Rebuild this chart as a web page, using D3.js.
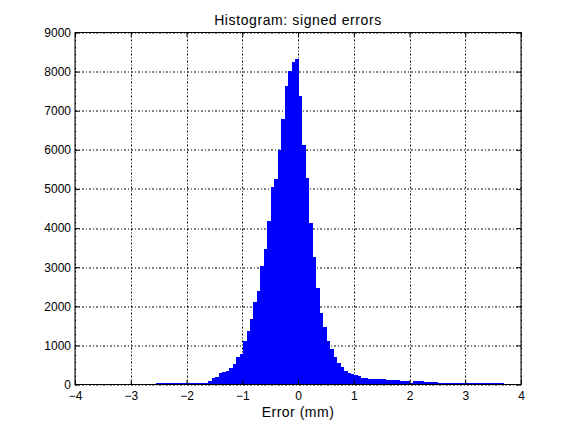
<!DOCTYPE html>
<html>
<head>
<meta charset="utf-8">
<script src="https://cdn.jsdelivr.net/npm/d3@7"></script>
<style>
  body { margin: 0; background: #fff; }
  text { font-family: "Liberation Sans", Arial, Helvetica, sans-serif; fill: #000; }
</style>
</head>
<body>
<script>
// histogram counts, 100 equal bins between errMin and errMax
var counts = [
  32, 32, 32, 32, 32, 32, 32, 32, 32, 32,
  32, 32, 45, 45, 50, 100, 160, 190, 300, 315,
  345, 420, 516, 711, 780, 1100, 1368, 1680, 2105, 2395,
  3029, 3464, 4180, 5050, 5255, 5985, 6785, 7630, 8014, 8236,
  8320, 7375, 6122, 5270, 4128, 3267, 2467, 1828, 1470, 1115,
  903, 700, 545, 440, 345, 305, 280, 240, 230, 174,
  174, 140, 140, 138, 140, 138, 120, 125, 115, 110,
  90, 92, 88, 50, 100, 90, 85, 60, 58, 55,
  55, 35, 35, 50, 50, 50, 32, 32, 32, 32,
  32, 32, 32, 32, 32, 32, 32, 32, 32, 32
];
var errMin = -2.54;
var errMax = 3.68;

var xTicks = [-4, -3, -2, -1, 0, 1, 2, 3, 4];
var yTicks = [0, 1000, 2000, 3000, 4000, 5000, 6000, 7000, 8000, 9000];

var titleText = "Histogram: signed errors";
var xLabelText = "Error (mm)";

var margin = { top: 32.5, right: 55, bottom: 47.5, left: 75 };
var width = 576 - margin.left - margin.right;
var height = 432 - margin.top - margin.bottom;
var tickLen = 4.5;

var binWidth = (errMax - errMin) / counts.length;
var bins = counts.map(function (c, i) {
  return { x0: errMin + i * binWidth, x1: errMin + (i + 1) * binWidth, n: c };
});

var x = d3.scaleLinear().domain([-4, 4]).range([0, width]);
var y = d3.scaleLinear().domain([0, 9000]).range([height, 0]);

var fmt = function (d) { return d < 0 ? "\u2212" + Math.abs(d) : String(d); };

var svg = d3.select("body")
  .append("svg")
  .attr("width", 576)
  .attr("height", 432)
  .style("background", "#fff");

var g = svg.append("g")
  .attr("transform", "translate(" + margin.left + "," + margin.top + ")");

// dotted grid
g.append("g").attr("class", "grid")
  .selectAll("line.vx")
  .data(xTicks).enter()
  .append("line")
  .attr("x1", function (d) { return Math.round(x(d)) + 0.5; })
  .attr("x2", function (d) { return Math.round(x(d)) + 0.5; })
  .attr("y1", 0)
  .attr("y2", height)
  .attr("stroke", "#000")
  .attr("stroke-width", 1)
  .attr("stroke-dasharray", "2,2,1,2");

g.select(".grid")
  .selectAll("line.hy")
  .data(yTicks).enter()
  .append("line")
  .attr("x1", 0)
  .attr("x2", width)
  .attr("y1", function (d) { return Math.round(y(d)) + 0.5; })
  .attr("y2", function (d) { return Math.round(y(d)) + 0.5; })
  .attr("stroke", "#000")
  .attr("stroke-width", 1)
  .attr("stroke-dasharray", "2,2,1,2");

// bars
g.append("g")
  .selectAll("rect")
  .data(bins).enter()
  .append("rect")
  .attr("x", function (d) { return x(d.x0); })
  .attr("width", function (d) { return x(d.x1) - x(d.x0) + 0.4; })
  .attr("y", function (d) { return y(d.n); })
  .attr("height", function (d) { return y(0) - y(d.n); })
  .attr("fill", "#0000ff")
  .attr("shape-rendering", "crispEdges");

// axes (ticks pointing inward on all four sides)
var xAxis = d3.axisBottom(x).tickValues(xTicks).tickFormat(fmt)
  .tickSizeInner(-tickLen).tickSizeOuter(0).tickPadding(7);
var yAxis = d3.axisLeft(y).tickValues(yTicks).tickFormat(fmt)
  .tickSizeInner(-tickLen).tickSizeOuter(0).tickPadding(4);
var xAxisTop = d3.axisTop(x).tickValues(xTicks).tickFormat("")
  .tickSizeInner(-tickLen).tickSizeOuter(0);
var yAxisRight = d3.axisRight(y).tickValues(yTicks).tickFormat("")
  .tickSizeInner(-tickLen).tickSizeOuter(0);

function styleAxis(sel) {
  sel.select(".domain").remove();
  sel.selectAll("line").attr("stroke", "#000");
  sel.selectAll("text").attr("font-size", "12px").attr("fill", "#000")
    .style("font-family", "'Liberation Sans', Arial, sans-serif");
}

g.append("g").attr("transform", "translate(0," + height + ")").call(xAxis).call(styleAxis);
g.append("g").call(yAxis).call(styleAxis);
g.append("g").call(xAxisTop).call(styleAxis);
g.append("g").attr("transform", "translate(" + width + ",0)").call(yAxisRight).call(styleAxis);

// box
g.append("rect")
  .attr("x", 0)
  .attr("y", 0)
  .attr("width", width)
  .attr("height", height)
  .attr("fill", "none")
  .attr("stroke", "#000")
  .attr("stroke-width", 1);

// title and label
g.append("text")
  .attr("x", width / 2)
  .attr("y", -8)
  .attr("text-anchor", "middle")
  .attr("font-size", "14px")
  .attr("letter-spacing", "0.6px")
  .text(titleText);

g.append("text")
  .attr("x", width / 2)
  .attr("y", height + 32)
  .attr("text-anchor", "middle")
  .attr("font-size", "14px")
  .attr("letter-spacing", "0.5px")
  .text(xLabelText);
</script>
</body>
</html>
